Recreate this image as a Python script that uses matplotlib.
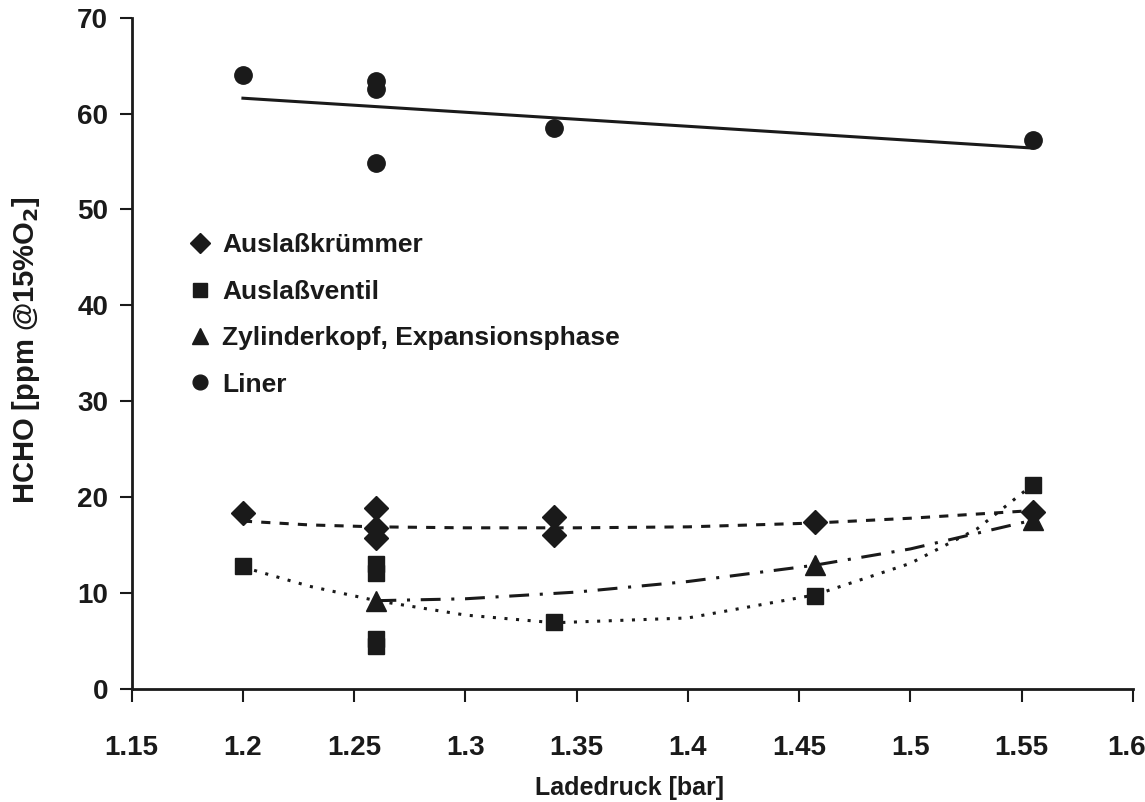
import numpy as np
import matplotlib
matplotlib.use('Agg')
import matplotlib.pyplot as plt
from matplotlib.transforms import ScaledTranslation

plt.rcParams['font.family'] = ['Liberation Sans', 'DejaVu Sans']
plt.rcParams['font.weight'] = 'bold'

# Messwerte
x_kruemmer = [1.2, 1.26, 1.26, 1.26, 1.34, 1.34, 1.457, 1.555]
y_kruemmer = [18.3, 18.9, 16.8, 15.7, 17.9, 16.0, 17.4, 18.5]

x_ventil = [1.2, 1.26, 1.26, 1.26, 1.26, 1.34, 1.457, 1.555]
y_ventil = [12.8, 13.0, 12.1, 5.2, 4.5, 7.0, 9.7, 21.3]

x_zylkopf = [1.26, 1.457, 1.555]
y_zylkopf = [9.2, 12.9, 17.6]

x_liner = [1.2, 1.26, 1.26, 1.26, 1.34, 1.555]
y_liner = [64.0, 63.4, 62.6, 54.8, 58.5, 57.2]

# Trendlinien
tx_kruemmer = [1.2, 1.23, 1.26, 1.3, 1.35, 1.4, 1.457, 1.5, 1.555]
ty_kruemmer = [17.5, 17.1, 16.9, 16.8, 16.8, 16.9, 17.3, 17.8, 18.6]

tx_ventil = [1.2, 1.23, 1.26, 1.3, 1.34, 1.4, 1.457, 1.5, 1.53, 1.555]
ty_ventil = [12.7, 10.7, 9.2, 7.7, 6.9, 7.4, 9.8, 13.1, 16.7, 21.3]

tx_zylkopf = [1.26, 1.3, 1.35, 1.4, 1.457, 1.5, 1.555]
ty_zylkopf = [9.2, 9.4, 10.1, 11.2, 12.9, 14.6, 17.6]

tx_liner = [1.2, 1.555]
ty_liner = [61.6, 56.4]

c = '#1a1a1a'

fig = plt.figure(figsize=(11.45, 8.02), dpi=100)
ax = fig.add_axes([0.115, 0.141, 0.8745, 0.837])

ax.plot(tx_kruemmer, ty_kruemmer, color=c, lw=2.2, ls=(0, (3, 3)))
ax.plot(tx_ventil, ty_ventil, color=c, lw=2.2, ls=(0, (1, 2.8)))
ax.plot(tx_zylkopf, ty_zylkopf, color=c, lw=2.2, ls=(0, (6.5, 3.5, 1, 3.5)))
ax.plot(tx_liner, ty_liner, color=c, lw=2.2)

ax.plot(x_kruemmer, y_kruemmer, 'D', color=c, ms=12, ls='none', label='Auslaßkrümmer')
ax.plot(x_ventil, y_ventil, 's', color=c, ms=12, ls='none', label='Auslaßventil')
ax.plot(x_zylkopf, y_zylkopf, '^', color=c, ms=14, ls='none', label='Zylinderkopf, Expansionsphase')
ax.plot(x_liner, y_liner, 'o', color=c, ms=12.5, ls='none', label='Liner')

ax.set_xlim(1.15, 1.6)
ax.set_ylim(0, 70)
ax.set_xticks(np.arange(1.15, 1.601, 0.05))
ax.set_xticklabels(['1.15', '1.2', '1.25', '1.3', '1.35', '1.4', '1.45', '1.5', '1.55', '1.6'])
ax.set_yticks(range(0, 71, 10))

for s in ['top', 'right']:
    ax.spines[s].set_visible(False)
for s in ['left', 'bottom']:
    ax.spines[s].set_linewidth(2)
    ax.spines[s].set_color(c)

ax.tick_params(axis='x', direction='out', length=9, width=1.5, pad=24, labelsize=20, colors=c)
ax.tick_params(axis='y', direction='out', length=9, width=1.5, pad=8, labelsize=20, colors=c)

# letzte Beschriftung etwas nach links, sonst am Rand abgeschnitten
lab = ax.get_xticklabels()[-1]
lab.set_transform(lab.get_transform() + ScaledTranslation(-6 / 100, 0, fig.dpi_scale_trans))

ax.set_xlabel('Ladedruck [bar]', fontsize=18, fontweight='bold', color=c)
ax.set_ylabel('HCHO [ppm @15%O$_\\mathbf{2}$]', fontsize=21, fontweight='bold', color=c)
ax.xaxis.set_label_coords(0.4975, -0.13)
ax.yaxis.set_label_coords(-0.09, 0.505)

leg = ax.legend(loc='upper left', bbox_to_anchor=(0.031, 0.714), frameon=False, fontsize=19,
                handletextpad=0.35, labelspacing=0.85, handlelength=1.0, markerscale=0.85)
for t in leg.get_texts():
    t.set_color(c)

fig.savefig('out.png', dpi=100, facecolor='white')
